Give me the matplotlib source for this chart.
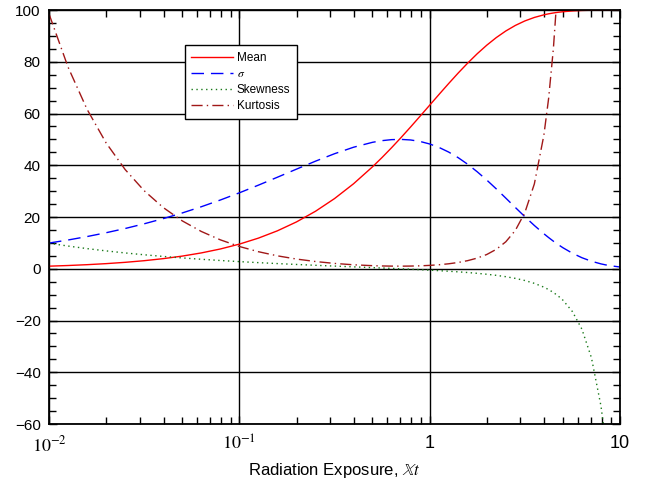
import matplotlib
matplotlib.use("Agg")
import matplotlib.pyplot as plt
from matplotlib.ticker import FixedLocator, LogLocator, MultipleLocator, NullFormatter

plt.rcParams['font.family'] = ['Liberation Sans', 'DejaVu Sans']
plt.rcParams['mathtext.fontset'] = 'stix'

# exposure values (log spaced)
exposure = [0.01, 0.012589, 0.015849, 0.019953, 0.025119, 0.031623, 0.039811, 0.050119,
            0.063096, 0.079433, 0.1, 0.12589, 0.15849, 0.19953, 0.25119, 0.31623,
            0.39811, 0.50119, 0.562341, 0.63096, 0.707946, 0.79433, 0.891251, 1.0,
            1.12202, 1.2589, 1.41254, 1.5849, 1.77828, 1.9953, 2.23872, 2.5119,
            2.81838, 3.1623, 3.5481, 3.9811, 4.2170, 4.4668, 4.7315, 5.0119, 5.62341,
            6.3096, 7.0795, 7.9433, 8.4140, 8.9125, 10.0]

mean = [0.995, 1.251, 1.572, 1.976, 2.481, 3.113, 3.903, 4.888, 6.115, 7.636, 9.516,
        11.83, 14.66, 18.09, 22.21, 27.11, 32.84, 39.42, 43.01, 46.79, 50.73, 54.81,
        58.99, 63.21, 67.44, 71.60, 75.65, 79.50, 83.11, 86.40, 89.34, 91.89, 94.03,
        95.77, 97.12, 98.13, 98.53, 98.85, 99.12, 99.33, 99.64, 99.82, 99.92, 99.96,
        99.98, 99.99, 100.0]

sigma = [9.93, 11.11, 12.44, 13.92, 15.55, 17.37, 19.37, 21.56, 23.96, 26.56, 29.34,
         32.30, 35.37, 38.49, 41.57, 44.45, 46.96, 48.87, 49.51, 49.90, 49.99, 49.77,
         49.19, 48.22, 46.86, 45.09, 42.92, 40.37, 37.47, 34.28, 30.86, 27.30, 23.69,
         20.13, 16.72, 13.53, 12.05, 10.65, 9.35, 8.13, 6.00, 4.26, 2.90, 1.88, 1.49,
         1.16, 0.67]

skewness = [9.875, 8.772, 7.785, 6.902, 6.111, 5.400, 4.761, 4.184, 3.663, 3.190, 2.759,
            2.364, 1.999, 1.658, 1.337, 1.030, 0.731, 0.433, 0.282, 0.129, -0.029,
            -0.193, -0.365, -0.548, -0.744, -0.958, -1.195, -1.462, -1.767, -2.124,
            -2.550, -3.069, -3.717, -4.546, -5.637, -7.113, -8.053, -9.170, -10.51,
            -12.13, -16.55, -23.38, -34.41, -53.04, -67.13, -86.15, -148.4]

kurtosis = [98.51, 77.95, 61.61, 48.64, 38.34, 30.16, 23.66, 18.51, 14.42, 11.18, 8.61,
            6.59, 4.99, 3.75, 2.79, 2.06, 1.53, 1.19, 1.08, 1.02, 1.00, 1.04, 1.13, 1.30,
            1.55, 1.92, 2.43, 3.14, 4.12, 5.51, 7.50, 10.42, 14.81, 21.67, 32.78, 51.59,
            65.84, 85.09, 111.5, 148.2, 274.8, 547.8, 1185.0, 2815.0, 4511.0, 7421.0,
            22023.0]

x_tick_vals = [0.01, 0.1, 1, 10]
x_tick_labels = [r'$10^{-2}$', r'$10^{-1}$', '1', '10']
y_ticks = [-60, -40, -20, 0, 20, 40, 60, 80, 100]

fig = plt.figure(figsize=(6.48, 4.83), dpi=100)
ax = fig.add_axes([49/648, 1 - 424/483, 571/648, 414/483])

ax.plot(exposure, mean, color='#ff0000', lw=1.0, label='Mean')
ax.plot(exposure, sigma, color='#0000ff', lw=1.0, dashes=(9, 5), label=r'$\sigma$')
ax.plot(exposure, skewness, color='#1a7a1a', lw=1.0, ls=(0, (1, 2.5)), label='Skewness')
ax.plot(exposure, kurtosis, color='#a01818', lw=1.0, ls=(0, (8, 3, 1, 3)), label='Kurtosis')

ax.set_xscale('log')
ax.set_xlim(0.01, 10)
ax.set_ylim(-60, 100)
ax.xaxis.set_major_locator(FixedLocator(x_tick_vals))
ax.set_xticklabels(x_tick_labels)
ax.xaxis.set_minor_locator(LogLocator(base=10, subs=range(2, 10)))
ax.xaxis.set_minor_formatter(NullFormatter())
ax.set_yticks(y_ticks)
ax.yaxis.set_minor_locator(MultipleLocator(5))

ax.grid(True, which='major', color='black', lw=1.0)
for s in ax.spines.values():
    s.set_linewidth(1.3)
ax.tick_params(which='both', direction='in', top=True, right=True, width=1.0)
ax.tick_params(which='major', length=6)
ax.tick_params(which='minor', length=5)
ax.tick_params(axis='y', labelsize=11, pad=6)
ax.tick_params(axis='x', labelsize=13, pad=8)

ax.set_xlabel(r'Radiation Exposure, $\mathbb{X}t$', fontsize=12)

leg = ax.legend(loc='upper left', bbox_to_anchor=(0.238, 0.915), fontsize=8.5,
                frameon=True, fancybox=False, framealpha=1, edgecolor='black',
                handlelength=3.5, handletextpad=0.35, borderpad=0.55,
                labelspacing=0.35, borderaxespad=0)
leg.get_frame().set_linewidth(1.0)

fig.savefig('out.png', dpi=100)
